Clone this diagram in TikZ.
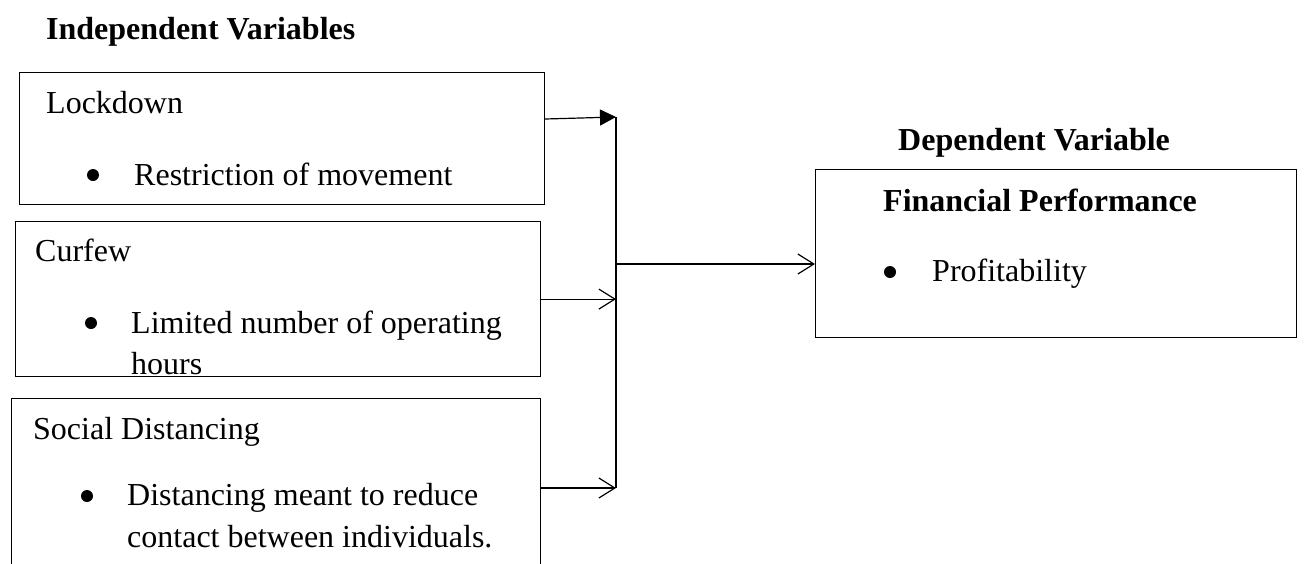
\documentclass[tikz,border=0pt]{standalone}
\usepackage{fontspec}
\setmainfont{Liberation Serif}
\usetikzlibrary{arrows.meta}
\begin{document}
\begin{tikzpicture}[x=1pt,y=-1pt,
 box/.style={draw,line width=1.2pt,anchor=north west,inner sep=0pt},
 txt/.style={anchor=base west,inner sep=0pt,font=\fontsize{32}{38}\selectfont},
 head/.style={anchor=base west,inner sep=0pt,font=\fontsize{32}{38}\selectfont\bfseries},
 bul/.style={circle,fill=black,inner sep=0pt,minimum size=12pt},
 link/.style={line width=1.2pt},
 openarrow/.style={link,-{Straight Barb[length=16pt,width=20pt]}},
 filledarrow/.style={link,-{Triangle[length=16pt,width=16pt]}}
]
\path[fill=white] (0,0) rectangle (1304,563);
\clip (0,0) rectangle (1304,563);

% headings
\node[head] (indep) at (46,39) {Independent Variables};
\node[head] (dep) at (898,150) {Dependent Variable};

% boxes
\node[box,minimum width=525pt,minimum height=132pt] (lock) at (19,72) {};
\node[box,minimum width=525pt,minimum height=155pt] (cur) at (15,221) {};
\node[box,minimum width=529pt,minimum height=220pt] (soc) at (11,398) {};
\node[box,minimum width=481pt,minimum height=168pt] (fin) at (815,169) {};

% box texts
\node[txt] (lockt) at (46,113) {Lockdown};
\node[bul] (lockb) at (93,175) {};
\node[txt] (lockl) at (134,185) {Restriction of movement};

\node[txt] (curt) at (35,261) {Curfew};
\node[bul] (curb) at (91,323) {};
\node[txt] (curl1) at (131,333) {Limited number of operating};
\begin{scope}
\clip (cur.north west) rectangle (cur.south east);
\node[txt] (curl2) at (131,374) {hours};
\end{scope}

\node[txt] (soct) at (33,439) {Social Distancing};
\node[bul] (socb) at (87,496) {};
\node[txt] (socl1) at (127,505) {Distancing meant to reduce};
\node[txt] (socl2) at (127,547) {contact between individuals.};

\node[head] (fint) at (883,211) {Financial Performance};
\node[bul] (finb) at (890,272) {};
\node[txt] (finl) at (932,281) {Profitability};

% connectors
\coordinate (bt) at (616,117);
\coordinate (bb) at (616,488);
\coordinate (m) at (616,264);
\draw[link] (bt) -- (bb);
\draw[filledarrow] ([yshift=-47pt]lock.north east) -- (bt);
\draw[openarrow] (cur.east) -- (bt |- cur.east);
\draw[openarrow] ([yshift=-90pt]soc.north east) -- (bb);
\draw[openarrow] (m) -- (m -| fin.west);
\end{tikzpicture}
\end{document}
